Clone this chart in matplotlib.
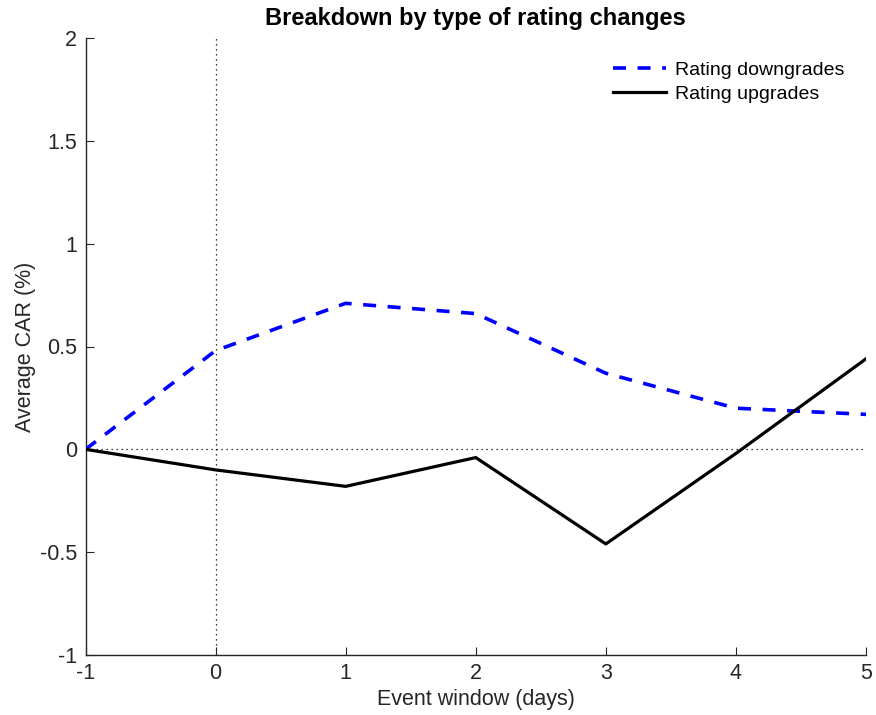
import matplotlib
matplotlib.use("Agg")
import matplotlib.pyplot as plt

days = [-1, 0, 1, 2, 3, 4, 5]
downgrades = [0.0, 0.48, 0.71, 0.66, 0.37, 0.20, 0.17]
upgrades = [0.0, -0.10, -0.18, -0.04, -0.46, -0.02, 0.44]
xticks = [-1, 0, 1, 2, 3, 4, 5]
yticks = [-1, -0.5, 0, 0.5, 1, 1.5, 2]
ytick_labels = ["-1", "-0.5", "0", "0.5", "1", "1.5", "2"]

plt.rcParams['font.family'] = ['Liberation Sans', 'DejaVu Sans']

fig = plt.figure(figsize=(8.76, 7.15), dpi=100)
ax = fig.add_axes([85.5/876, 1 - 655/715, (866-85.5)/876, (655-38)/715])

ax.axhline(0, color='black', lw=0.9, ls=(0, (1, 3)), zorder=1)
ax.axvline(0, color='black', lw=0.9, ls=(0, (1, 3)), zorder=1)

ax.plot(days, downgrades, color='#0000ff', lw=2.6, dashes=(3.6, 3.2), label='Rating downgrades', zorder=3)
ax.plot(days, upgrades, color='black', lw=2.3, label='Rating upgrades', zorder=3)

ax.set_xlim(-1, 5)
ax.set_ylim(-1, 2)
ax.set_xticks(xticks)
ax.set_xticklabels([str(t) for t in xticks])
ax.set_yticks(yticks)
ax.set_yticklabels(ytick_labels)

for s in ['top', 'right']:
    ax.spines[s].set_visible(False)
for s in ['left', 'bottom']:
    ax.spines[s].set_color('#262626')
    ax.spines[s].set_linewidth(1.0)

ax.tick_params(direction='in', length=6, width=0.8, colors='#262626', labelsize=15.5, labelcolor='#262626', pad=6)

ax.set_xlabel('Event window (days)', fontsize=15.5, color='#262626', labelpad=3)
ax.set_ylabel('Average CAR (%)', fontsize=15.5, color='#262626', labelpad=3)
ax.set_title('Breakdown by type of rating changes', fontsize=17, fontweight='bold', pad=9)

leg = ax.legend(loc='upper right', frameon=False, fontsize=14, handlelength=2.7,
                handletextpad=0.5, labelspacing=0.3, bbox_to_anchor=(0.995, 0.99))

fig.savefig('out.png', dpi=100)
